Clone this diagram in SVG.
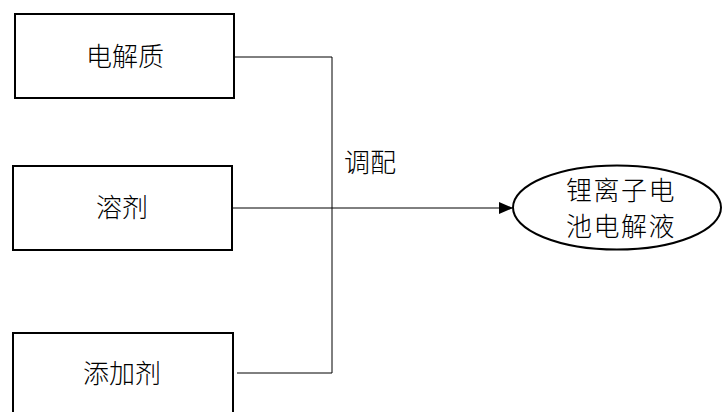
<svg xmlns="http://www.w3.org/2000/svg" width="724" height="412" viewBox="0 0 724 412">
<defs>
<marker id="arr" markerWidth="14" markerHeight="12" refX="13" refY="6" orient="auto" markerUnits="userSpaceOnUse">
<path d="M0,0 L14,6 L0,12 Z" fill="#000"/>
</marker>
<style>
.box{fill:#fff;stroke:#000;stroke-width:2}
.ln{fill:none;stroke:#000;stroke-width:1}
.t{font-family:"Noto Sans CJK SC","Noto Sans CJK JP",sans-serif;font-size:26px;font-weight:300;fill:#000;text-anchor:middle}
.e{font-size:26px;letter-spacing:1.5px}
</style>
</defs>
<rect width="724" height="412" fill="#fff"/>
<g id="connectors">
<polyline class="ln" points="234,57 332,57 332,373 237,373"/>
<line class="ln" x1="232" y1="208" x2="512" y2="208" marker-end="url(#arr)"/>
<text class="t" x="370" y="172">调配</text>
</g>
<g id="n1">
<rect class="box" x="15" y="14" width="219" height="84"/>
<text class="t" x="125" y="66">电解质</text>
</g>
<g id="n2">
<rect class="box" x="13" y="166" width="219" height="84"/>
<text class="t" x="122" y="217">溶剂</text>
</g>
<g id="n3">
<rect class="box" x="13" y="333" width="220" height="90"/>
<text class="t" x="122" y="383">添加剂</text>
</g>
<g id="n4">
<ellipse class="box" cx="617" cy="207.5" rx="104" ry="42"/>
<text class="t e" x="621" y="200">锂离子电</text>
<text class="t e" x="621" y="236">池电解液</text>
</g>
</svg>
